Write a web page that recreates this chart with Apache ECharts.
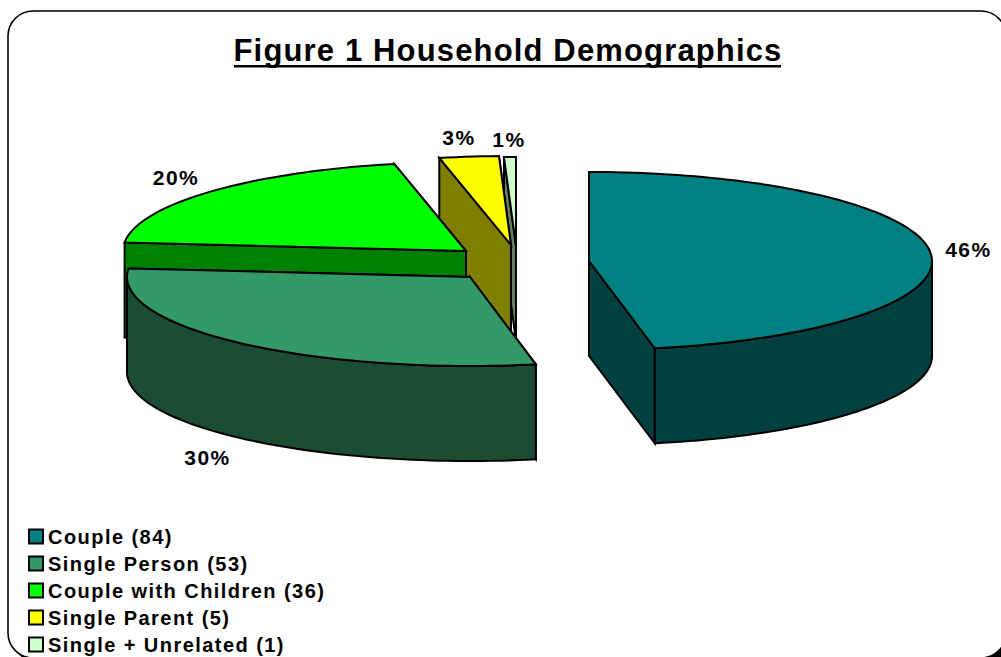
<!DOCTYPE html>
<html><head><meta charset="utf-8">
<style>html,body{margin:0;padding:0;background:#fff;overflow:hidden}#c{width:1001px;height:657px}svg text{letter-spacing:1.45px}svg text[style*="31px"]{letter-spacing:1.15px}</style>
<script src="https://cdn.jsdelivr.net/npm/echarts@6/dist/echarts.min.js"></script>
</head><body><div id="c"></div>
<script>
const categories = ['Couple','Single Person','Couple with Children','Single Parent','Single + Unrelated'];
const counts = [84,53,36,5,1];
const percents = [46,30,20,3,1];
const topColors = ['#008080','#339966','#00ff00','#ffff00','#ccffcc'];
const sideColors = ['#004040','#1a4d33','#008000','#808000','#668066'];
const titleText = 'Figure 1 Household Demographics';

// exploded pie layout (centre of each slice, label offset)
const RX = 343, RY = 89, DEPTH = 95;
const centers = [[589,261],[470,277],[466,251],[511,245],[516,246]];
const labelOffsets = [[38,-3],[-32,20],[-34,-14],[-10,-19],[-1,-18]];
const drawOrder = [4,3,2,1,0];
const FONT = 'bold 21px "Liberation Sans", Arial, sans-serif';
const total = counts.reduce((a,b)=>a+b,0);
const names = categories.map((c,i)=>c+' ('+counts[i]+')');

function rim(cx,cy,deg){const t=deg*Math.PI/180;return [cx+RX*Math.sin(t),cy-RY*Math.cos(t)];}
function poly(points,fill){return {type:'polygon',shape:{points},style:{fill,stroke:'#000',lineWidth:2,lineJoin:'miter'}};}

function renderSlice(i){
  return function(params,api){
    const v=api.value(0);
    let before=0; for(let k=0;k<i;k++) before+=counts[k];
    const a0=before/total*360, a1=a0+v/total*360;
    const [cx,cy]=centers[i];
    const arc=[]; const n=Math.max(4,Math.ceil((a1-a0)/1.5));
    for(let k=0;k<=n;k++) arc.push(a0+(a1-a0)*k/n);
    const children=[];
    const down=p=>[p[0],p[1]+DEPTH];
    const c=[cx,cy];
    const p0=rim(cx,cy,a0), p1=rim(cx,cy,a1);
    // radial walls
    children.push(poly([c,p1,down(p1),down(c)],sideColors[i]));
    children.push(poly([c,p0,down(p0),down(c)],sideColors[i]));
    // front outer wall
    const front=arc.filter(a=>a>=90&&a<=270);
    if(a0<270&&a1>90){
      const angs=[Math.max(a0,90),...front,Math.min(a1,270)];
      const top=angs.map(a=>rim(cx,cy,a));
      children.push(poly(top.concat(top.slice().reverse().map(down)),sideColors[i]));
    }
    // top face
    children.push(poly([c].concat(arc.map(a=>rim(cx,cy,a))),topColors[i]));
    // percent label
    const mid=rim(cx,cy,(a0+a1)/2);
    const depthShift=((a0+a1)/2>90&&(a0+a1)/2<270)?DEPTH:0;
    children.push({type:'text',style:{x:mid[0]+labelOffsets[i][0],y:mid[1]+depthShift+labelOffsets[i][1],
      text:percents[i]+'%',fill:'#000',font:FONT,align:'center',verticalAlign:'middle'}});
    return {type:'group',children};
  };
}

const chart=echarts.init(document.getElementById('c'),null,{renderer:'svg',width:1001,height:657});
chart.setOption({
  animation:false,
  backgroundColor:'#fff',
  title:{text:titleText,left:503,top:30,textAlign:'center',
    textStyle:{fontFamily:'"Liberation Sans", Arial, sans-serif',fontWeight:'bold',fontSize:31,color:'#000'}},
  legend:{orient:'vertical',left:23,top:521,height:136,itemWidth:14,itemHeight:14,itemGap:6,icon:'rect',
    data:names,selectedMode:false,
    textStyle:{fontFamily:'"Liberation Sans", Arial, sans-serif',fontWeight:'bold',fontSize:20,color:'#000',padding:[0,0,0,0],lineHeight:21}},
  graphic:[
    {type:'rect',z:-3,silent:true,shape:{x:14,y:17,width:998,height:647,r:25},style:{fill:'#000'}},
    {type:'rect',z:-2,silent:true,shape:{x:8,y:11,width:998,height:647,r:25},style:{fill:'#fff',stroke:'#000',lineWidth:1.6}},
    {type:'rect',z:10,silent:true,shape:{x:234,y:65,width:547,height:2.5},style:{fill:'#000'}}
  ],
  series:drawOrder.map(i=>({
    type:'custom',name:names[i],coordinateSystem:'none',silent:true,
    itemStyle:{color:topColors[i],borderColor:'#000',borderWidth:2},
    data:[[counts[i]]],
    renderItem:renderSlice(i)
  }))
});
</script></body></html>
